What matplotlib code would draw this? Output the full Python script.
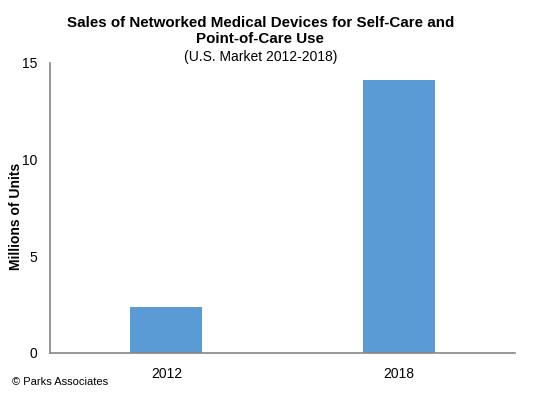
import matplotlib
matplotlib.use('Agg')
import matplotlib.pyplot as plt

# data
years = ['2012', '2018']
units = [2.4, 14.1]
yticks = [0, 5, 10, 15]

plt.rcParams['font.family'] = ['Liberation Sans', 'DejaVu Sans']

fig = plt.figure(figsize=(5.4, 3.93), dpi=100)
ax = fig.add_axes([0.0926, 0.1018, 0.862, 0.7387])

x = range(len(years))
ax.bar(x, units, width=0.31, color='#5B9BD5')
ax.set_xlim(-0.5, len(years) - 0.5)
ax.set_ylim(0, 15)
ax.set_yticks(yticks)
ax.set_xticks(list(x))
ax.set_xticklabels(years)
ax.tick_params(length=0, labelsize=10, colors='black', pad=10)
ax.tick_params(axis='y', pad=9)

for s in ['top', 'right']:
    ax.spines[s].set_visible(False)
for s in ['left', 'bottom']:
    ax.spines[s].set_color('#868686')
    ax.spines[s].set_linewidth(1.2)

ax.set_ylabel('Millions of Units', fontsize=10, fontweight='bold')
ax.yaxis.set_label_coords(-0.058, 0.469)

fig.text(0.482, 0.922, 'Sales of Networked Medical Devices for Self-Care and\nPoint-of-Care Use',
         ha='center', va='center', fontsize=10.9, fontweight='bold', linespacing=1.2)
fig.text(0.482, 0.855, '(U.S. Market 2012-2018)', ha='center', va='center', fontsize=10)
fig.text(0.022, 0.028, '\u00a9 Parks Associates', ha='left', va='center', fontsize=8)

fig.savefig('out.png', dpi=100)
